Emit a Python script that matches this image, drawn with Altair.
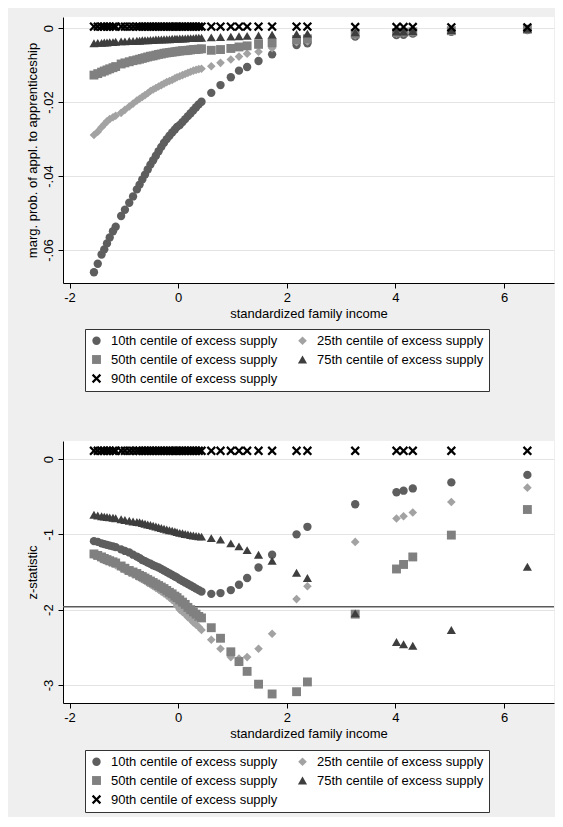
import altair as alt
import pandas as pd

# ---------------- data ----------------
SERIES = [
    "10th centile of excess supply",
    "25th centile of excess supply",
    "50th centile of excess supply",
    "75th centile of excess supply",
    "90th centile of excess supply",
]

X_INCOME = [-1.55, -1.48, -1.41, -1.36, -1.31, -1.26, -1.20, -1.15,
            -1.05, -0.98, -0.90, -0.83, -0.76, -0.71, -0.66, -0.61, -0.56, -0.51,
            -0.46, -0.41, -0.36, -0.31, -0.26, -0.21, -0.16, -0.11, -0.06, -0.02,
            0.03, 0.08, 0.13, 0.18, 0.23, 0.28, 0.33, 0.38, 0.43,
            0.61, 0.78, 0.97, 1.12, 1.27, 1.48, 1.73, 2.18, 2.38, 3.26, 4.02, 4.15, 4.32, 5.03, 6.43]

# marginal probability of application to apprenticeship
MP_10 = [-0.0660, -0.0637, -0.0612, -0.0598, -0.0582, -0.0566, -0.0549, -0.0537,
         -0.0508, -0.0491, -0.0472, -0.0455, -0.0436, -0.0423, -0.0409, -0.0396, -0.0382, -0.0369,
         -0.0357, -0.0345, -0.0333, -0.0321, -0.0310, -0.0300, -0.0291, -0.0282, -0.0274, -0.0267,
         -0.0262, -0.0254, -0.0246, -0.0238, -0.0230, -0.0222, -0.0214, -0.0206, -0.0199,
         -0.0175, -0.0154, -0.0133, -0.0115, -0.0105, -0.0089, -0.0071, -0.0046, -0.0041, -0.0023,
         -0.0019, -0.0018, -0.0015, -0.0010, -0.0005]
MP_25 = [-0.0289, -0.0280, -0.0268, -0.0260, -0.0252, -0.0246, -0.0241, -0.0237,
         -0.0229, -0.0221, -0.0212, -0.0204, -0.0196, -0.0191, -0.0186, -0.0181, -0.0176, -0.0170,
         -0.0166, -0.0162, -0.0158, -0.0154, -0.0150, -0.0146, -0.0143, -0.0140, -0.0136, -0.0133,
         -0.0130, -0.0127, -0.0124, -0.0121, -0.0118, -0.0115, -0.0113, -0.0111, -0.0110,
         -0.0103, -0.0094, -0.0085, -0.0077, -0.0069, -0.0064, -0.0054, -0.0038, -0.0036, -0.0020,
         -0.0015, -0.0014, -0.0012, -0.0008, -0.0004]
MP_50 = [-0.0127, -0.0123, -0.0119, -0.0116, -0.0113, -0.0110, -0.0107, -0.0104,
         -0.0097, -0.0094, -0.0091, -0.0088, -0.0086, -0.0084, -0.0082, -0.0080, -0.0078, -0.0076,
         -0.0075, -0.0073, -0.0071, -0.0070, -0.0068, -0.0067, -0.0066, -0.0065, -0.0064, -0.0063,
         -0.0062, -0.0061, -0.0061, -0.0060, -0.0059, -0.0058, -0.0058, -0.0057, -0.0056,
         -0.0060, -0.0058, -0.0055, -0.0051, -0.0048, -0.0044, -0.0040, -0.0031, -0.0029, -0.0016,
         -0.0012, -0.0011, -0.0010, -0.0007, -0.0003]
MP_75 = [-0.0041, -0.0040, -0.0040, -0.0039, -0.0039, -0.0038, -0.0038, -0.0037,
         -0.0036, -0.0036, -0.0035, -0.0035, -0.0034, -0.0034, -0.0033, -0.0033, -0.0033, -0.0032,
         -0.0032, -0.0031, -0.0031, -0.0031, -0.0030, -0.0030, -0.0030, -0.0029, -0.0029, -0.0029,
         -0.0028, -0.0028, -0.0028, -0.0027, -0.0027, -0.0027, -0.0026, -0.0026, -0.0026,
         -0.0025, -0.0024, -0.0023, -0.0022, -0.0021, -0.0020, -0.0018, -0.0016, -0.0015, -0.0011,
         -0.0009, -0.0009, -0.0008, -0.0005, -0.0002]
MP_90 = [0.0004] * 37 + [0.0004, 0.0004, 0.0004, 0.0004, 0.0004, 0.0004, 0.0004, 0.0004,
                         0.0004, 0.0003, 0.0003, 0.0003, 0.0003, 0.0002, 0.0002]

# z-statistics
Z_10 = [-1.09, -1.10, -1.12, -1.13, -1.14, -1.15, -1.16, -1.17,
        -1.20, -1.22, -1.24, -1.27, -1.295, -1.315, -1.34, -1.355, -1.375, -1.39,
        -1.41, -1.425, -1.44, -1.46, -1.48, -1.50, -1.52, -1.54, -1.56, -1.575,
        -1.60, -1.62, -1.64, -1.66, -1.68, -1.70, -1.72, -1.74, -1.76,
        -1.79, -1.78, -1.74, -1.67, -1.58, -1.44, -1.27, -1.00, -0.90, -0.60,
        -0.44, -0.42, -0.39, -0.31, -0.21]
Z_25 = [-1.28, -1.30, -1.33, -1.345, -1.36, -1.375, -1.39, -1.41,
        -1.45, -1.48, -1.51, -1.535, -1.56, -1.58, -1.60, -1.62, -1.645, -1.665,
        -1.69, -1.71, -1.735, -1.76, -1.785, -1.81, -1.84, -1.87, -1.90, -1.95,
        -2.00, -2.03, -2.06, -2.10, -2.13, -2.17, -2.20, -2.23, -2.27,
        -2.40, -2.52, -2.63, -2.65, -2.63, -2.52, -2.32, -1.86, -1.69, -1.10,
        -0.79, -0.76, -0.71, -0.57, -0.38]
Z_50 = [-1.26, -1.28, -1.30, -1.32, -1.335, -1.35, -1.365, -1.38,
        -1.42, -1.45, -1.48, -1.50, -1.52, -1.545, -1.56, -1.58, -1.60, -1.62,
        -1.64, -1.66, -1.68, -1.70, -1.72, -1.745, -1.77, -1.79, -1.82, -1.84,
        -1.87, -1.90, -1.93, -1.97, -2.00, -2.03, -2.06, -2.09, -2.11,
        -2.24, -2.38, -2.56, -2.69, -2.82, -2.99, -3.12, -3.09, -2.96, -2.06,
        -1.46, -1.40, -1.30, -1.01, -0.67]
Z_75 = [-0.74, -0.75, -0.76, -0.765, -0.77, -0.775, -0.78, -0.785,
        -0.80, -0.81, -0.82, -0.83, -0.835, -0.84, -0.85, -0.86, -0.87, -0.875,
        -0.885, -0.895, -0.905, -0.915, -0.925, -0.935, -0.945, -0.95, -0.96, -0.97,
        -0.98, -0.985, -0.995, -1.00, -1.01, -1.015, -1.02, -1.025, -1.03,
        -1.05, -1.07, -1.12, -1.16, -1.21, -1.27, -1.35, -1.51, -1.58, -2.05,
        -2.43, -2.46, -2.48, -2.27, -1.43]
Z_90 = [0.11] * 52

Z_CRIT = [-1.96]

X_TICKS = [-2, 0, 2, 4, 6]
MP_TICKS = [0, -0.02, -0.04, -0.06]
Z_TICKS = [0, -1, -2, -3]

# ---------------- styling ----------------
FONT = "Liberation Sans"
COLORS = ["#5e5e5e", "#a2a2a2", "#808080", "#3e3e3e", "#000000"]
XPATH = ("M-0.66,-1L0,-0.34L0.66,-1L1,-0.66L0.34,0L1,0.66L0.66,1L0,0.34"
         "L-0.66,1L-1,0.66L-0.34,0L-1,-0.66Z")
SHAPES = ["circle", "diamond", "square", "triangle-up", XPATH]
SIZES = [70, 88, 64, 74, 48]


def long_df(cols):
    rows = []
    for name, vals in zip(SERIES, cols):
        for xv, yv in zip(X_INCOME, vals):
            rows.append({"income": xv, "value": yv, "series": name})
    return pd.DataFrame(rows)


df_mp = long_df([MP_10, MP_25, MP_50, MP_75, MP_90])
df_z = long_df([Z_10, Z_25, Z_50, Z_75, Z_90])

X_LABEL = "datum.value < 0 ? '-' + format(abs(datum.value), 'd') : format(datum.value, 'd')"
MP_LABEL = ("datum.value == 0 ? '0' : '-' + replace(format(abs(datum.value), '.2f'), '0.', '.')")
Z_LABEL = X_LABEL

x_enc = alt.X(
    "income:Q",
    scale=alt.Scale(domain=[-2.12, 6.92], nice=False, zero=False),
    axis=alt.Axis(values=X_TICKS, labelExpr=X_LABEL, grid=False,
                  title="standardized family income"),
)


def legend(y):
    return alt.Legend(
        title=None, orient="none", legendX=22, legendY=y, columns=2,
        direction="horizontal",
        fillColor="white", strokeColor="#333333", padding=5,
        labelFontSize=13, labelFont=FONT, labelColor="#000000", labelLimit=0,
        symbolSize=34, symbolStrokeWidth=0, rowPadding=5, columnPadding=18,
        labelOffset=8,
    )


def point_layer(df, y_enc, leg_y):
    return alt.Chart(df).mark_point(filled=True, opacity=1, strokeWidth=0).encode(
        x=x_enc,
        y=y_enc,
        color=alt.Color("series:N", scale=alt.Scale(domain=SERIES, range=COLORS),
                        legend=legend(leg_y)),
        shape=alt.Shape("series:N", scale=alt.Scale(domain=SERIES, range=SHAPES),
                        legend=legend(leg_y)),
        size=alt.Size("series:N", scale=alt.Scale(domain=SERIES, range=SIZES),
                      legend=None),
    )


y_mp = alt.Y(
    "value:Q",
    scale=alt.Scale(domain=[-0.0689, 0.003], nice=False, zero=False),
    axis=alt.Axis(values=MP_TICKS, labelExpr=MP_LABEL, labelAngle=270, grid=True,
                  title="marg. prob. of appl. to apprenticeship"),
)
top = point_layer(df_mp, y_mp, 312).properties(width=491, height=266)

y_z = alt.Y(
    "value:Q",
    scale=alt.Scale(domain=[-3.24, 0.24], nice=False, zero=False),
    axis=alt.Axis(values=Z_TICKS, labelExpr=Z_LABEL, labelAngle=270, grid=True,
                  title="z-statistic"),
)
rule = alt.Chart(pd.DataFrame({"value": Z_CRIT})).mark_rule(
    color="#5a5a5a", strokeWidth=1.5
).encode(y=y_z)
bottom = alt.layer(rule, point_layer(df_z, y_z, 309)).properties(width=491, height=262)

chart = (
    alt.vconcat(top, bottom, spacing=49)
    .resolve_scale(x="independent", y="independent", color="independent",
                   shape="independent", size="independent")
    .resolve_legend(color="independent", shape="independent")
    .properties(background="#efefef",
                padding={"left": 18, "top": 9, "right": 0, "bottom": 4})
    .configure_view(fill="white", strokeWidth=0)
    .configure_axis(
        labelFont=FONT, titleFont=FONT, labelFontSize=13, titleFontSize=13,
        labelColor="#000000", titleColor="#000000", titleFontWeight="normal",
        domainColor="#000000", tickColor="#000000", tickSize=5,
        gridColor="#e4e4e4", gridWidth=1, labelPadding=3, titlePadding=3,
    )
)

chart.save("out.html", embed_options={"renderer": "svg", "actions": False})
